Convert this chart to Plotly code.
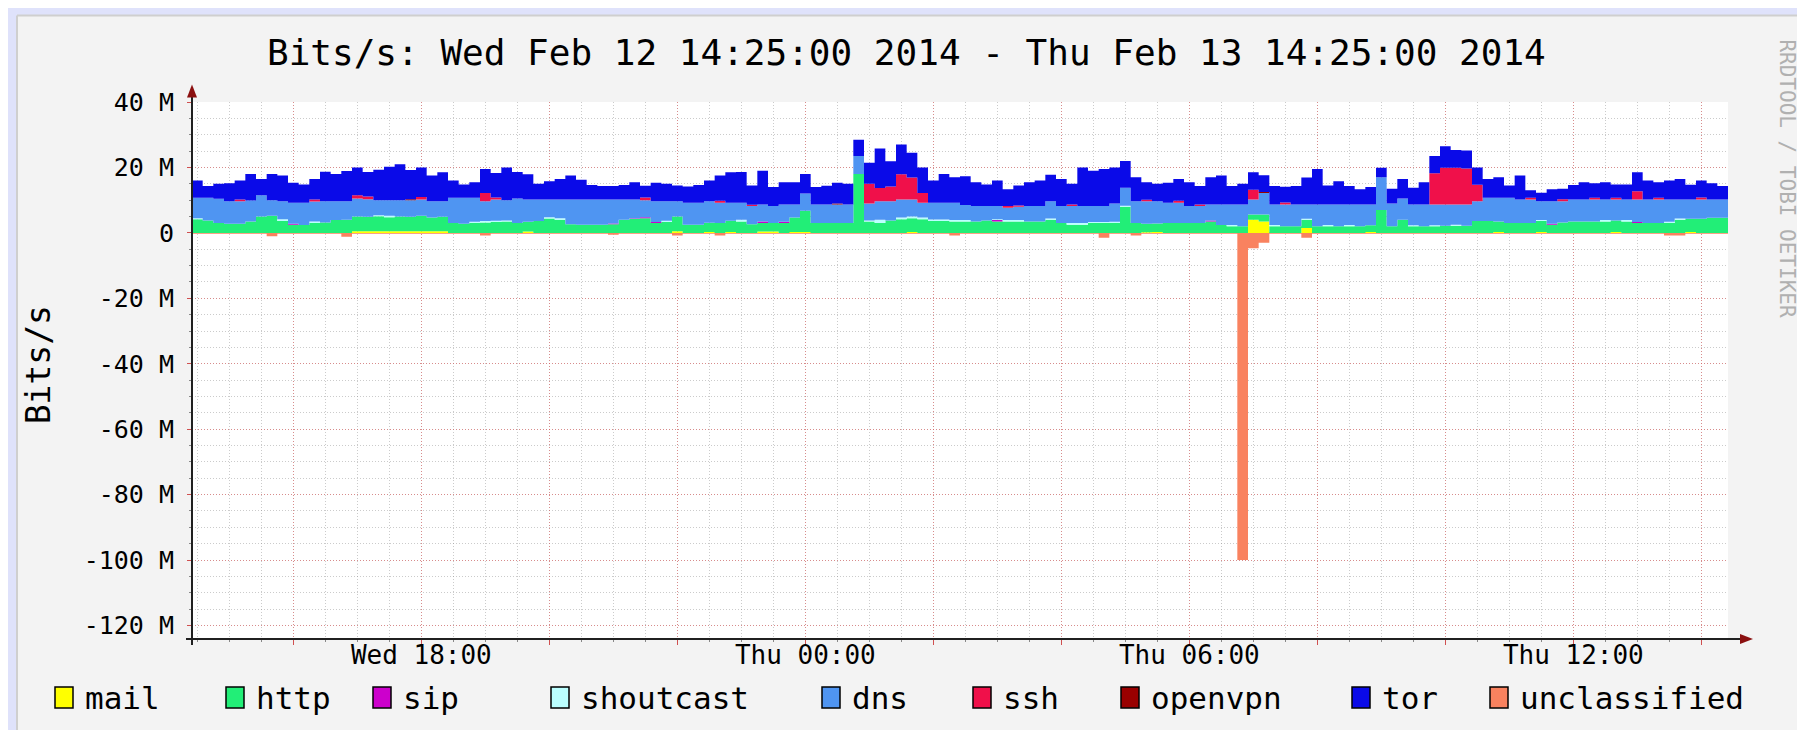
import plotly.graph_objects as go
import pandas as pd

# ---------------- data (values in Mbit/s, 10-minute steps) ----------------
START = "2014-02-12 14:25:00"
END = "2014-02-13 14:25:00"
STEP = "10min"

names = ["mail", "http", "sip", "shoutcast", "dns", "ssh", "openvpn", "tor", "unclassified"]
colors = ["#FFFF00", "#22EE77", "#CC00CC", "#BBFFFF", "#4F95F2", "#F0104A", "#990000", "#0A0AE8", "#F9825F"]

mail = [0, 0, 0, 0, 0, 0, 0, 0, 0, 0, 0, 0, 0, 0, 0, 0.5, 0.5, 0.5, 0.5, 0.5, 0.5, 0.5, 0.5, 0.5,
        0, 0, 0, 0, 0, 0, 0, 0.4, 0, 0, 0, 0, 0, 0, 0, 0, 0, 0, 0, 0, 0, 0.5, 0, 0,
        0.3, 0, 0.3, 0, 0, 0.4, 0.4, 0, 0.3, 0.3, 0, 0, 0, 0, 0, 0, 0, 0, 0, 0.3, 0, 0, 0, 0,
        0, 0, 0, 0, 0, 0, 0, 0, 0, 0, 0, 0, 0, 0, 0, 0, 0, 0.2, 0.3, 0, 0, 0, 0, 0,
        0, 0, 0, 4.0, 3.5, 0, 0, 0, 1.5, 0, 0, 0, 0, 0, 0.3, 0, 0, 0, 0, 0, 0, 0, 0, 0,
        0, 0, 0.3, 0, 0, 0, 0.3, 0, 0, 0, 0, 0, 0, 0.3, 0, 0, 0, 0, 0, 0, 0.3, 0, 0, 0]

http = [4.2, 3.8, 3.0, 2.8, 2.8, 3.5, 5.0, 5.2, 3.6, 2.5, 2.4, 3.0, 3.2, 3.9, 4.0, 4.5, 4.4, 4.6, 4.3, 4.5, 4.4, 4.7, 4.2, 4.4,
        3.0, 2.8, 3.0, 3.2, 3.3, 3.5, 3.0, 3.0, 3.6, 4.4, 4.0, 2.6, 2.5, 2.5, 2.5, 2.6, 4.0, 4.3, 4.5, 3.0, 3.3, 4.5, 2.5, 2.5,
        2.8, 3.0, 3.4, 3.5, 2.6, 2.6, 2.6, 3.0, 4.4, 6.5, 3.0, 3.0, 3.0, 3.0, 18.0, 3.5, 3.0, 3.8, 4.2, 4.2, 4.2, 3.6, 3.6, 3.5,
        3.5, 3.5, 3.8, 3.5, 3.5, 3.5, 3.5, 3.5, 4.0, 3.0, 2.5, 2.5, 3.0, 3.0, 3.0, 8.0, 3.0, 2.6, 2.6, 3.0, 3.0, 3.0, 3.0, 3.5,
        2.4, 2.0, 2.0, 1.6, 2.1, 2.0, 2.0, 2.0, 2.5, 2.0, 2.0, 2.0, 2.0, 2.0, 2.0, 7.0, 2.0, 4.0, 2.0, 2.0, 2.0, 2.2, 2.2, 2.2,
        3.6, 3.6, 3.2, 3.0, 3.0, 3.0, 3.3, 2.5, 3.2, 3.5, 3.5, 3.5, 3.5, 3.5, 3.5, 3.0, 3.0, 3.0, 3.0, 4.0, 4.0, 4.3, 4.6, 4.6]

sip = [0, 0, 0, 0, 0, 0, 0, 0, 0, 0.3, 0, 0, 0, 0, 0, 0, 0, 0, 0, 0, 0, 0, 0, 0,
       0, 0, 0, 0, 0, 0, 0, 0, 0, 0, 0, 0, 0, 0, 0, 0.3, 0, 0.2, 0.3, 0.3, 0, 0, 0, 0,
       0, 0, 0, 0, 0, 0.5, 0, 0.4, 0, 0, 0, 0, 0, 0, 0, 0, 0, 0, 0, 0, 0, 0, 0, 0,
       0, 0, 0, 0.4, 0, 0, 0, 0, 0, 0, 0, 0, 0, 0, 0, 0, 0, 0, 0, 0, 0, 0, 0, 0.3,
       0, 0, 0, 0, 0, 0, 0, 0, 0, 0, 0, 0, 0, 0, 0, 0, 0, 0, 0, 0, 0, 0, 0, 0,
       0, 0, 0, 0, 0, 0, 0, 0.3, 0, 0, 0, 0, 0, 0, 0, 0.3, 0, 0, 0, 0, 0, 0, 0, 0]

shoutcast = [0.3, 0, 0, 0, 0, 0, 0, 0, 0.6, 0, 0, 0.5, 0, 0, 0, 0, 0, 0.3, 0.4, 0, 0, 0, 0, 0,
             0, 0, 0.4, 0.4, 0.4, 0.3, 0, 0, 0, 0.4, 0.5, 0, 0, 0, 0, 0, 0, 0, 0, 0, 0.4, 0, 0, 0,
             0, 0, 0, 0.5, 0, 0, 0, 0, 0, 0, 0, 0, 0, 0, 0, 0.3, 1.0, 0, 0.5, 0.5, 0.5, 0.5, 0.5, 0.4,
             0.4, 0, 0, 0.3, 0.4, 0.4, 0, 0, 0.4, 0, 0.5, 0.5, 0.3, 0.3, 0.4, 0.3, 0, 0, 0, 0, 0, 0, 0, 0,
             0, 0.4, 0, 0, 0, 0.4, 0, 0, 0.3, 0, 0.4, 0, 0.4, 0, 0, 0, 0, 0, 0.3, 0, 0.3, 0, 0.3, 0,
             0, 0, 0, 0, 0, 0, 0.3, 0, 0, 0, 0, 0, 0.4, 0, 0.4, 0, 0, 0, 0.4, 0.4, 0, 0, 0, 0]

dns = [6.2, 6.9, 7.4, 6.9, 6.9, 6.4, 6.5, 4.8, 5.5, 6.4, 6.8, 6.1, 6.5, 5.8, 5.7, 5.5, 5.4, 4.6, 4.8, 5.0, 5.1, 5.0, 5.0, 4.8,
       7.7, 7.9, 7.3, 6.1, 6.5, 6.2, 7.5, 6.8, 6.6, 5.4, 5.7, 7.6, 7.7, 7.7, 7.7, 7.3, 6.2, 5.7, 5.2, 6.4, 6.0, 4.7, 6.7, 6.7,
       6.6, 6.2, 5.5, 5.2, 5.6, 5.2, 5.2, 5.3, 4.0, 5.2, 5.7, 5.7, 5.7, 5.7, 5.5, 5.2, 5.7, 5.9, 5.5, 5.2, 4.5, 5.1, 5.1, 5.3,
       4.6, 4.7, 4.4, 4.0, 3.8, 4.1, 4.7, 4.7, 5.3, 5.2, 5.2, 5.2, 4.9, 4.9, 5.6, 5.5, 6.7, 6.9, 6.8, 6.2, 6.2, 5.2, 5.2, 4.9,
       6.3, 6.3, 6.7, 4.6, 6.6, 6.3, 6.7, 6.7, 4.4, 6.7, 6.3, 6.7, 6.3, 6.7, 6.4, 10.0, 7.0, 6.5, 6.4, 6.7, 6.4, 6.5, 6.2, 6.5,
       6.1, 7.1, 7.2, 7.7, 7.2, 7.2, 5.8, 6.9, 6.5, 6.7, 6.7, 6.7, 6.3, 6.4, 6.3, 6.9, 7.2, 7.2, 6.8, 5.8, 5.9, 5.9, 5.6, 5.6]

ssh = [0, 0, 0, 0, 0.5, 0, 0, 0, 0, 0, 0, 0.6, 0, 0, 0, 1.0, 0.8, 0, 0, 0, 0, 0.8, 0, 0,
       0, 0, 0, 2.5, 0.6, 0, 0, 0, 0, 0, 0, 0, 0, 0, 0, 0, 0, 0, 0.8, 0, 0, 0, 0, 0,
       0, 0.6, 0, 0, 0.4, 0, 0, 0, 0, 0, 0, 0, 0, 0, 0, 6.0, 4.0, 4.5, 7.7, 6.7, 3.0, 0, 0, 0,
       0, 0, 0, 0, 0.5, 0.4, 0, 0, 0, 0, 0.5, 0, 0, 0, 0, 0, 0, 0.4, 0, 0, 0.6, 0, 0.5, 0,
       0, 0, 0, 3.0, 0, 0, 0.6, 0, 0, 0, 0, 0, 0, 0, 0, 0, 0, 0, 0, 0, 9.5, 11.2, 11.2, 11.0,
       5.0, 0, 0, 0, 0, 0.5, 0, 0, 0.6, 0, 0, 0.5, 0, 0.5, 0, 2.5, 0, 0.5, 0, 0, 0, 0.6, 0, 0]

openvpn = [0, 0, 0, 0, 0, 0, 0, 0, 0, 0, 0, 0, 0, 0, 0, 0, 0, 0, 0, 0, 0.3, 0, 0, 0,
           0, 0, 0, 0, 0, 0, 0, 0, 0, 0, 0, 0, 0, 0, 0, 0, 0, 0, 0, 0, 0, 0, 0, 0,
           0, 0, 0, 0, 0, 0, 0, 0, 0, 0, 0, 0, 0.3, 0, 0, 0, 0, 0, 0, 0, 0, 0, 0, 0,
           0, 0, 0, 0, 0, 0, 0, 0, 0, 0, 0, 0, 0, 0, 0, 0, 0, 0, 0, 0, 0, 0, 0, 0,
           0, 0, 0, 0, 0.3, 0, 0, 0, 0, 0, 0, 0, 0, 0, 0, 0, 0, 0, 0, 0, 0, 0, 0, 0,
           0, 0, 0, 0, 0, 0, 0, 0, 0, 0, 0, 0, 0, 0, 0, 0, 0, 0, 0, 0, 0, 0, 0, 0]

tor = [5.3, 3.6, 4.6, 5.5, 5.8, 8.1, 5.0, 8.0, 7.8, 6.1, 5.6, 6.3, 9.0, 8.3, 9.2, 8.5, 7.5, 9.3, 10.2, 11.0, 8.9, 9.0, 7.8, 8.8,
       5.3, 4.1, 4.8, 7.3, 7.5, 10.0, 8.1, 7.7, 4.8, 5.6, 6.3, 7.3, 6.0, 4.4, 4.1, 4.1, 4.4, 5.3, 3.6, 5.6, 5.3, 4.8, 5.0, 5.4,
       6.3, 7.7, 9.3, 9.4, 5.9, 10.3, 5.8, 6.8, 6.8, 6.0, 5.3, 5.7, 6.3, 6.3, 5.0, 6.4, 12.1, 7.7, 9.1, 7.6, 7.8, 6.8, 8.8, 7.8,
       8.8, 7.3, 6.6, 7.8, 5.1, 6.1, 7.3, 7.8, 8.1, 8.3, 6.3, 11.8, 10.8, 11.3, 11.0, 8.2, 7.3, 5.4, 5.3, 6.1, 6.7, 7.3, 5.6, 8.3,
       8.8, 5.6, 6.3, 5.3, 5.1, 5.6, 4.8, 5.6, 8.2, 10.8, 5.8, 7.1, 5.6, 4.6, 5.3, 2.9, 4.5, 6.0, 5.1, 6.8, 5.3, 6.6, 5.4, 5.5,
       5.3, 5.8, 6.3, 3.8, 7.3, 2.3, 2.6, 3.6, 3.2, 4.4, 5.3, 4.5, 5.3, 4.1, 4.6, 5.8, 5.8, 4.8, 5.8, 6.3, 4.5, 5.2, 5.0, 4.1]

unclassified = [-0.3, -0.3, -0.3, -0.3, -0.3, -0.3, -0.3, -1.0, -0.3, -0.3, -0.3, -0.3, -0.3, -0.3, -1.2, -0.3, -0.3, -0.3, -0.3, -0.3, -0.3, -0.3, -0.3, -0.3,
                -0.3, -0.3, -0.3, -0.8, -0.3, -0.3, -0.3, -0.3, -0.3, -0.3, -0.3, -0.3, -0.3, -0.3, -0.3, -0.6, -0.3, -0.3, -0.3, -0.3, -0.3, -0.8, -0.3, -0.3,
                -0.3, -0.8, -0.3, -0.3, -0.3, -0.3, -0.3, -0.3, -0.3, -0.3, -0.3, -0.3, -0.3, -0.3, -0.3, -0.3, -0.3, -0.3, -0.3, -0.3, -0.3, -0.3, -0.3, -0.8,
                -0.3, -0.3, -0.3, -0.3, -0.3, -0.3, -0.3, -0.3, -0.3, -0.3, -0.3, -0.3, -0.3, -1.5, -0.3, -0.3, -0.8, -0.3, -0.3, -0.3, -0.3, -0.3, -0.3, -0.3,
                -0.3, -0.3, -100.0, -4.7, -3.0, -0.3, -0.3, -0.3, -1.5, -0.3, -0.3, -0.3, -0.3, -0.3, -0.3, -0.3, -0.3, -0.3, -0.3, -0.3, -0.3, -0.3, -0.3, -0.3,
                -0.3, -0.3, -0.3, -0.3, -0.3, -0.3, -0.3, -0.3, -0.3, -0.3, -0.3, -0.3, -0.3, -0.3, -0.3, -0.3, -0.3, -0.3, -0.8, -0.8, -0.3, -0.3, -0.3, -0.3]

y_tick_vals = [40, 20, 0, -20, -40, -60, -80, -100, -120]
y_tick_text = ["40 M", "20 M", "0", "-20 M", "-40 M", "-60 M", "-80 M", "-100 M", "-120 M"]
x_tick_vals = ["2014-02-12 16:00", "2014-02-12 18:00", "2014-02-12 20:00", "2014-02-12 22:00",
               "2014-02-13 00:00", "2014-02-13 02:00", "2014-02-13 04:00", "2014-02-13 06:00",
               "2014-02-13 08:00", "2014-02-13 10:00", "2014-02-13 12:00", "2014-02-13 14:00"]
x_tick_text = ["", "Wed 18:00", "", "", "Thu 00:00", "", "", "Thu 06:00", "", "", "Thu 12:00", ""]
title_text = "Bits/s: Wed Feb 12 14:25:00 2014 - Thu Feb 13 14:25:00 2014"

series = [mail, http, sip, shoutcast, dns, ssh, openvpn, tor, unclassified]

# ---------------- geometry (pixels) ----------------
W, H = 1805, 730
L, R_PX = 184, 1720      # plot area left/right
T, B_PX = 93.5, 631      # plot area top/bottom
PW, PH = R_PX - L, B_PX - T
Y_TOP = 40e6
Y_BOT = Y_TOP - PH * (20e6 / 65.5)


def px(x):
    return (x - L) / PW


def py(y):
    return (B_PX - y) / PH


FONT = "DejaVu Sans Mono"
times = pd.date_range(START, END, freq=STEP)

fig = go.Figure()
for name, col, vals in zip(names, colors, series):
    yv = [v * 1e6 for v in vals] + [vals[-1] * 1e6]
    kw = dict(stackgroup="pos") if name != "unclassified" else dict(fill="tozeroy")
    fig.add_trace(go.Scatter(
        x=times, y=yv, name=name, mode="lines",
        line=dict(width=0, shape="hv", color=col),
        fillcolor=col, showlegend=False, hoverinfo="skip", **kw))

MAJ = "rgba(225,90,90,0.55)"
MIN = "rgba(140,140,140,0.45)"

fig.update_xaxes(
    type="date", range=[START, END], fixedrange=True,
    tickvals=x_tick_vals, ticktext=x_tick_text,
    tickfont=dict(family=FONT, size=26, color="#000"), ticklabelstandoff=-12,
    showgrid=True, gridcolor=MAJ, griddash="1px,2px", gridwidth=1,
    ticks="outside", ticklen=5, tickcolor="#d05050", tickwidth=1,
    minor=dict(dtick=30 * 60 * 1000, tick0="2014-02-12 14:30", showgrid=True,
               gridcolor=MIN, griddash="1px,2px", ticks="outside", ticklen=2, tickcolor="#888"),
    showline=False, zeroline=False)

fig.update_yaxes(
    range=[Y_BOT, Y_TOP], fixedrange=True,
    tickvals=[v * 1e6 for v in y_tick_vals], ticktext=y_tick_text,
    tickfont=dict(family=FONT, size=25, color="#000"),
    showgrid=True, gridcolor=MAJ, griddash="1px,2px", gridwidth=1,
    ticks="outside", ticklen=4, tickcolor="#d05050", tickwidth=1, ticklabelstandoff=8,
    minor=dict(dtick=5e6, showgrid=True, gridcolor=MIN, griddash="1px,2px",
               ticks="outside", ticklen=2, tickcolor="#888"),
    showline=False, zeroline=False)

shapes = [
    # light grey panel
    dict(type="rect", xref="paper", yref="paper", x0=px(9), x1=px(1797), y0=py(726), y1=py(7),
         fillcolor="#F3F3F3", line=dict(width=0), layer="below"),
    dict(type="line", xref="paper", yref="paper", x0=px(9), x1=px(1797), y0=py(7), y1=py(7),
         line=dict(color="#CFCFCF", width=2), layer="below"),
    dict(type="line", xref="paper", yref="paper", x0=px(9), x1=px(9), y0=py(726), y1=py(7),
         line=dict(color="#CFCFCF", width=2), layer="below"),
    dict(type="line", xref="paper", yref="paper", x0=px(1797), x1=px(1797), y0=py(726), y1=py(7),
         line=dict(color="#A0A0A0", width=2), layer="below"),
    dict(type="line", xref="paper", yref="paper", x0=px(9), x1=px(1797), y0=py(726), y1=py(726),
         line=dict(color="#A0A0A0", width=2), layer="below"),
    # white canvas
    dict(type="rect", xref="paper", yref="paper", x0=0, x1=1, y0=0, y1=1,
         fillcolor="#FFFFFF", line=dict(width=0), layer="below"),
    # axes
    dict(type="line", xref="paper", yref="paper", x0=px(L), x1=px(L), y0=py(637), y1=py(86),
         line=dict(color="#202020", width=2)),
    dict(type="line", xref="paper", yref="paper", x0=px(178), x1=px(1734), y0=py(B_PX), y1=py(B_PX),
         line=dict(color="#202020", width=2)),
    dict(type="path", xref="paper", yref="paper",
         path=f"M {px(L)},{py(76)} L {px(L - 5)},{py(89)} L {px(L + 5)},{py(89)} Z",
         fillcolor="#8B1010", line=dict(width=0)),
    dict(type="path", xref="paper", yref="paper",
         path=f"M {px(1745)},{py(B_PX)} L {px(1732)},{py(B_PX - 5)} L {px(1732)},{py(B_PX + 5)} Z",
         fillcolor="#8B1010", line=dict(width=0)),
]

annotations = [
    dict(text=title_text, xref="paper", yref="paper", x=px(898), y=py(44), showarrow=False,
         xanchor="center", yanchor="middle", font=dict(family=FONT, size=36, color="#000")),
    dict(text="Bits/s", xref="paper", yref="paper", x=px(30), y=py(357), showarrow=False,
         textangle=-90, xanchor="center", yanchor="middle", font=dict(family=FONT, size=33, color="#000")),
    dict(text="RRDTOOL / TOBI OETIKER", xref="paper", yref="paper", x=px(1779), y=py(170), showarrow=False,
         textangle=90, xanchor="center", yanchor="middle", font=dict(family=FONT, size=21, color="#B0B0B0")),
]

# legend row (custom, like rrdtool)
legend_x = [47, 218, 365, 543, 814, 965, 1113, 1344, 1482]
LEG_Y = 690
for name, col, lx in zip(names, colors, legend_x):
    shapes.append(dict(type="rect", xref="paper", yref="paper",
                       x0=px(lx), x1=px(lx + 18), y0=py(LEG_Y + 10), y1=py(LEG_Y - 11),
                       fillcolor=col, line=dict(color="#000", width=1.5)))
    annotations.append(dict(text=name, xref="paper", yref="paper", x=px(lx + 28), y=py(LEG_Y),
                            showarrow=False, xanchor="left", yanchor="middle",
                            font=dict(family=FONT, size=31, color="#000")))

fig.update_layout(
    width=W, height=H,
    margin=dict(l=L, r=W - R_PX, t=T, b=H - B_PX, pad=0),
    paper_bgcolor="#DFE2FB", plot_bgcolor="rgba(0,0,0,0)",
    font=dict(family=FONT, color="#000"),
    shapes=shapes, annotations=annotations, showlegend=False,
)

fig.write_html("out.html")
